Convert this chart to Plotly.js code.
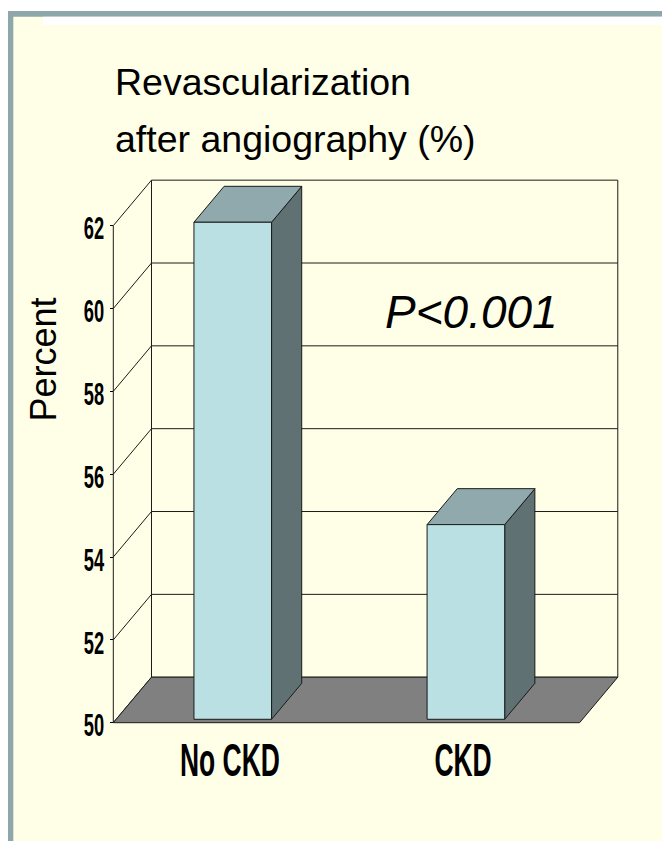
<!DOCTYPE html>
<html>
<head>
<meta charset="utf-8">
<script src="https://cdn.plot.ly/plotly-3.0.1.min.js"></script>
<style>
  html, body { margin: 0; padding: 0; background: #ffffff; }
  #chart { width: 662px; height: 841px; }
</style>
</head>
<body>
<div id="chart"></div>
<script>
// ---- data ----
const categories = ["No CKD", "CKD"];
const values = [62.0, 54.7];
const tickValues = [50, 52, 54, 56, 58, 60, 62];
const tickLabels = ["50", "52", "54", "56", "58", "60", "62"];
const titleLines = ["Revascularization", "after angiography (%)"];
const yTitle = "Percent";
const pText = "P<0.001";

// ---- 3D look constants (styling) ----
const YMIN = 50, YMAX = 62;
const DX = 0.1638;   // depth offset in x units
const DY = 1.0985;   // depth offset in y units
const HW = 0.1664;   // half width of bar
const D0 = 0.075, D1 = 0.865; // bar depth span (fraction of floor depth)
const X0 = -0.5, X1 = categories.length - 0.5;

const lineCol = '#1a1a1a';
const traces = [];
function poly(xs, ys, fill, lw) {
  traces.push({
    type: 'scatter', mode: 'lines', x: xs.concat([xs[0]]), y: ys.concat([ys[0]]),
    fill: 'toself', fillcolor: fill, line: {color: lineCol, width: lw || 1},
    hoverinfo: 'skip', showlegend: false
  });
}
function seg(xs, ys, col, w) {
  traces.push({
    type: 'scatter', mode: 'lines', x: xs, y: ys,
    line: {color: col || lineCol, width: w || 1},
    hoverinfo: 'skip', showlegend: false
  });
}

// back wall + side wall gridlines
tickValues.forEach(v => {
  seg([X0 + DX, X1 + DX], [v + DY, v + DY]);
  seg([X0, X0 + DX], [v, v + DY]);
});
// back wall vertical edges
seg([X0 + DX, X0 + DX], [YMIN + DY, YMAX + DY]);
seg([X1 + DX, X1 + DX], [YMIN + DY, YMAX + DY]);
// front axis line
seg([X0, X0], [YMIN, YMAX]);
// floor
poly([X0, X1, X1 + DX, X0 + DX], [YMIN, YMIN, YMIN + DY, YMIN + DY], '#808080', 1);

// bars
values.forEach((v, i) => {
  const xL = i - HW + D0 * DX, xR = i + HW + D0 * DX;
  const yB = YMIN + D0 * DY, yT = v + D0 * DY;
  const ddx = (D1 - D0) * DX, ddy = (D1 - D0) * DY;
  poly([xR, xR, xR + ddx, xR + ddx], [yB, yT, yT + ddy, yB + ddy], '#5F7173', 1);
  poly([xL, xR, xR + ddx, xL + ddx], [yT, yT, yT + ddy, yT + ddy], '#8FA9AC', 1);
  poly([xL, xR, xR, xL], [yB, yB, yT, yT], '#BBE0E3', 1);
});

// pixel helpers for layout decoration
const W = 662, H = 841;
const L = 100, R = 32, T = 170, B = 111;
const PW = W - L - R, PH = H - T - B;
const px = x => (x - L) / PW;
const py = y => (H - B - y) / PH;
function rect(x0, y0, x1, y1, color) {
  return {type: 'rect', xref: 'paper', yref: 'paper', layer: 'below',
    x0: px(x0), x1: px(x1), y0: py(y1), y1: py(y0),
    fillcolor: color, line: {width: 0}};
}

const xr = [-0.5 + (L - 113.3) / 233.15, -0.5 + (W - R - 113.3) / 233.15];
const yr = [50 - (H - B - 722.7) / 41.42, 50 + (722.7 - T) / 41.42];

const arial = '"Liberation Sans", Arial, sans-serif';

const layout = {
  width: W, height: H,
  margin: {l: L, r: R, t: T, b: B, pad: 0},
  paper_bgcolor: '#FFFFE7',
  plot_bgcolor: 'rgba(0,0,0,0)',
  showlegend: false,
  xaxis: {
    range: xr, showgrid: false, zeroline: false, showline: false,
    tickmode: 'array', tickvals: categories.map((c, i) => i), ticktext: categories,
    ticks: '', ticklabelstandoff: 2,
    tickfont: {family: arial, size: 46, color: '#000', weight: 'bold'},
    fixedrange: true
  },
  yaxis: {
    range: yr, showgrid: false, zeroline: false, showline: false,
    anchor: 'free', position: px(113.3),
    tickmode: 'array', tickvals: tickValues, ticktext: tickLabels,
    ticks: 'outside', ticklen: 3, tickwidth: 1, tickcolor: '#000',
    ticklabelstandoff: 0,
    tickfont: {family: arial, size: 30.5, color: '#000', weight: 'bold'},
    fixedrange: true
  },
  shapes: [
    rect(0, 0, W, 11, '#ffffff'),
    rect(0, 0, 8, H, '#ffffff'),
    rect(8, 11, W, 16.7, '#8DA7AA'),
    rect(8, 11, 13.3, H, '#8DA7AA'),
    rect(43, 16.7, W, 25, '#ffffff')
  ],
  annotations: [
    {text: titleLines[0], xref: 'paper', yref: 'paper', x: px(113), y: py(82),
     xanchor: 'left', yanchor: 'middle', showarrow: false,
     font: {family: arial, size: 37.5, color: '#000'}},
    {text: titleLines[1], xref: 'paper', yref: 'paper', x: px(113), y: py(139),
     xanchor: 'left', yanchor: 'middle', showarrow: false,
     font: {family: arial, size: 37.5, color: '#000'}},
    {text: yTitle, xref: 'paper', yref: 'paper', x: px(42.5), y: py(360),
     xanchor: 'center', yanchor: 'middle', showarrow: false, textangle: -90,
     font: {family: arial, size: 36, color: '#000'}},
    {text: pText, xref: 'paper', yref: 'paper', x: px(471.5), y: py(312),
     xanchor: 'center', yanchor: 'middle', showarrow: false,
     font: {family: arial, size: 46, color: '#000', style: 'italic'}}
  ]
};

// Narrow (condensed) look of the axis labels in the original: compress horizontally
function condense(gd) {
  const apply = (sel, s, dy) => {
    gd.querySelectorAll(sel).forEach(t => {
      const tr = t.getAttribute('transform') || '';
      if (tr.indexOf('scale(') >= 0) return;
      const ax = parseFloat(t.getAttribute('x') || 0);
      const ay = parseFloat(t.getAttribute('y') || 0);
      t.setAttribute('transform', tr + ' translate(' + ax + ',' + (ay + dy) + ') scale(' + s + ',1) translate(' + (-ax) + ',' + (-ay) + ')');
    });
  };
  apply('g.ytick text', 0.6, 3);
  apply('g.xtick text', 0.575, -3);
}

Plotly.newPlot('chart', traces, layout, {displayModeBar: false, staticPlot: true}).then(gd => {
  condense(gd);
  gd.on('plotly_afterplot', () => condense(gd));
});
</script>
</body>
</html>
